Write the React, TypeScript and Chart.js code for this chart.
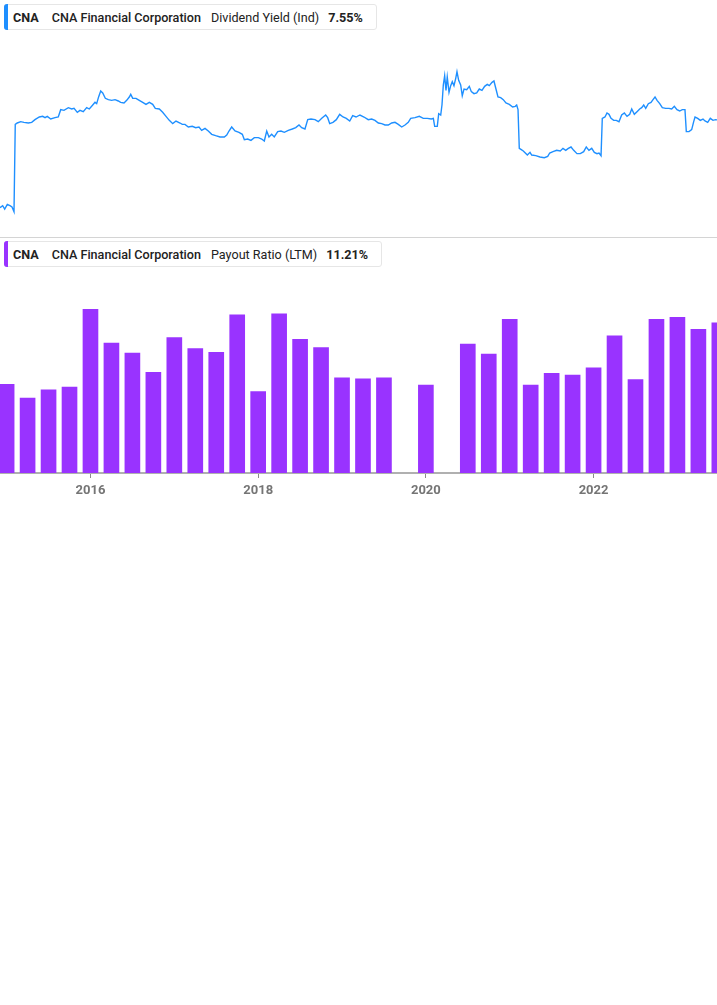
import React, { useEffect, useRef } from 'react';
import { Chart, registerables } from 'chart.js';

Chart.register(...registerables);

// Dividend Yield (Ind), in %, sampled along the daily series (decimal years)
const yieldYears = [
  2014.921, 2014.953, 2014.977, 2015.008, 2015.040, 2015.064, 2015.088, 2015.103, 2015.127, 2015.168,
  2015.207, 2015.259, 2015.299, 2015.338, 2015.390, 2015.430, 2015.458, 2015.485, 2015.526, 2015.577,
  2015.616, 2015.645, 2015.684, 2015.736, 2015.776, 2015.804, 2015.843, 2015.875, 2015.914, 2015.955,
  2015.986, 2016.027, 2016.054, 2016.074, 2016.098, 2016.122, 2016.146, 2016.177, 2016.213, 2016.253,
  2016.293, 2016.332, 2016.360, 2016.400, 2016.432, 2016.463, 2016.480, 2016.504, 2016.543, 2016.582,
  2016.623, 2016.662, 2016.702, 2016.742, 2016.773, 2016.821, 2016.861, 2016.901, 2016.940, 2016.981,
  2017.020, 2017.068, 2017.095, 2017.127, 2017.167, 2017.214, 2017.255, 2017.294, 2017.326, 2017.366,
  2017.405, 2017.446, 2017.493, 2017.545, 2017.596, 2017.625, 2017.652, 2017.684, 2017.724, 2017.771,
  2017.811, 2017.835, 2017.875, 2017.914, 2017.954, 2018.002, 2018.042, 2018.073, 2018.102, 2018.129,
  2018.161, 2018.192, 2018.233, 2018.272, 2018.312, 2018.359, 2018.407, 2018.448, 2018.487, 2018.519,
  2018.558, 2018.591, 2018.630, 2018.678, 2018.717, 2018.758, 2018.805, 2018.829, 2018.853, 2018.892,
  2018.932, 2018.972, 2019.012, 2019.051, 2019.092, 2019.127, 2019.167, 2019.214, 2019.262, 2019.313,
  2019.354, 2019.393, 2019.433, 2019.473, 2019.512, 2019.552, 2019.592, 2019.632, 2019.671, 2019.712,
  2019.751, 2019.790, 2019.819, 2019.870, 2019.922, 2019.969, 2020.017, 2020.065, 2020.089, 2020.105,
  2020.136, 2020.153, 2020.177, 2020.192, 2020.208, 2020.224, 2020.240, 2020.255, 2020.276, 2020.296,
  2020.315, 2020.335, 2020.356, 2020.371, 2020.391, 2020.415, 2020.434, 2020.455, 2020.487, 2020.518,
  2020.542, 2020.574, 2020.606, 2020.637, 2020.669, 2020.701, 2020.732, 2020.756, 2020.789, 2020.812,
  2020.836, 2020.860, 2020.892, 2020.923, 2020.955, 2020.995, 2021.035, 2021.066, 2021.083, 2021.099,
  2021.114, 2021.138, 2021.162, 2021.186, 2021.210, 2021.242, 2021.262, 2021.310, 2021.361, 2021.412,
  2021.453, 2021.477, 2021.516, 2021.560, 2021.603, 2021.635, 2021.668, 2021.699, 2021.731, 2021.763,
  2021.802, 2021.842, 2021.882, 2021.913, 2021.945, 2021.978, 2022.009, 2022.041, 2022.065, 2022.089,
  2022.104, 2022.136, 2022.160, 2022.184, 2022.208, 2022.240, 2022.271, 2022.303, 2022.335, 2022.367,
  2022.399, 2022.431, 2022.455, 2022.486, 2022.518, 2022.550, 2022.574, 2022.598, 2022.622, 2022.653,
  2022.685, 2022.709, 2022.733, 2022.757, 2022.789, 2022.820, 2022.860, 2022.899, 2022.932, 2022.963,
  2022.995, 2023.027, 2023.058, 2023.090, 2023.106, 2023.138, 2023.170, 2023.194, 2023.210, 2023.242,
  2023.273, 2023.305, 2023.329, 2023.361, 2023.392, 2023.424, 2023.456, 2023.472,
];

const yieldValues = [
  2.28, 2.40, 2.20, 2.48, 2.40, 2.32, 2.04, 7.28, 7.36, 7.44,
  7.40, 7.36, 7.40, 7.56, 7.72, 7.76, 7.68, 7.76, 7.60, 7.68,
  7.72, 8.16, 8.12, 8.28, 8.20, 8.24, 8.00, 8.12, 8.04, 8.28,
  8.20, 8.44, 8.60, 8.52, 8.94, 9.28, 9.16, 8.84, 8.76, 8.72,
  8.76, 8.68, 8.60, 8.56, 8.72, 8.92, 9.08, 8.84, 8.84, 8.72,
  8.60, 8.48, 8.60, 8.48, 8.24, 8.20, 8.00, 7.76, 7.52, 7.32,
  7.48, 7.36, 7.28, 7.28, 7.12, 7.16, 7.08, 7.12, 6.92, 7.04,
  6.88, 6.68, 6.60, 6.52, 6.52, 6.64, 6.88, 7.12, 6.88, 6.80,
  6.68, 6.36, 6.40, 6.32, 6.48, 6.48, 6.40, 6.28, 6.88, 6.52,
  6.68, 6.52, 6.84, 6.88, 6.80, 6.92, 7.00, 7.08, 7.24, 7.08,
  7.00, 7.56, 7.60, 7.56, 7.44, 7.64, 7.84, 7.68, 7.32, 7.40,
  7.56, 7.88, 7.72, 7.64, 7.48, 7.80, 7.72, 7.84, 7.72, 7.56,
  7.60, 7.52, 7.36, 7.32, 7.24, 7.24, 7.36, 7.40, 7.28, 7.12,
  7.24, 7.40, 7.64, 7.68, 7.76, 7.64, 7.64, 7.60, 7.64, 7.16,
  7.16, 7.92, 7.84, 8.44, 9.64, 10.20, 9.32, 10.12, 9.20, 9.60,
  9.84, 9.60, 10.04, 10.44, 9.92, 9.64, 9.00, 9.40, 9.36, 9.56,
  9.24, 9.12, 9.16, 9.40, 9.32, 9.56, 9.68, 9.60, 9.80, 9.88,
  9.40, 8.92, 8.88, 8.76, 8.56, 8.48, 8.32, 8.36, 8.44, 8.16,
  5.84, 5.76, 5.68, 5.56, 5.44, 5.60, 5.44, 5.40, 5.32, 5.28,
  5.36, 5.56, 5.64, 5.72, 5.68, 5.84, 5.72, 5.84, 5.92, 5.72,
  5.52, 5.52, 5.64, 5.92, 5.72, 5.84, 5.60, 5.52, 5.56, 5.40,
  7.64, 7.72, 7.96, 7.88, 7.64, 7.52, 7.52, 7.44, 7.84, 7.96,
  7.76, 7.88, 8.20, 7.88, 8.04, 8.20, 8.28, 8.44, 8.24, 8.52,
  8.60, 8.76, 8.92, 8.72, 8.52, 8.28, 8.24, 8.24, 8.20, 8.36,
  8.16, 8.08, 8.16, 8.16, 6.84, 6.84, 6.96, 7.44, 7.72, 7.64,
  7.52, 7.60, 7.48, 7.40, 7.64, 7.52, 7.56, 7.55,
];

// Payout Ratio (LTM), quarterly, in %
const payoutQuarters = [
  '2014 Q4', '2015 Q1', '2015 Q2', '2015 Q3', '2015 Q4', '2016 Q1', '2016 Q2', '2016 Q3',
  '2016 Q4', '2017 Q1', '2017 Q2', '2017 Q3', '2017 Q4', '2018 Q1', '2018 Q2', '2018 Q3',
  '2018 Q4', '2019 Q1', '2019 Q2', '2019 Q3', '2019 Q4', '2020 Q1', '2020 Q2', '2020 Q3',
  '2020 Q4', '2021 Q1', '2021 Q2', '2021 Q3', '2021 Q4', '2022 Q1', '2022 Q2', '2022 Q3',
  '2022 Q4', '2023 Q1', '2023 Q2',
];

const payoutValues: (number | null)[] = [
  97, 82, 91, 94, 179, 142, 131, 110,
  148, 136, 132, 173, 89, 174, 146, 137,
  104, 103, 104, null, 96, null, 141, 130,
  168, 96, 109, 107, 115, 150, 102, 168,
  170, 157, 164,
];

const xTickYears = [2016, 2018, 2020, 2022];

const X_MIN = 2014.921;
const X_MAX = 2023.472;

const quarterToYear = (q: string) => {
  const [y, n] = q.split(' Q');
  return Number(y) + Number(n) / 4;
};

const FONT = 'Roboto, "Noto Sans", Arial, sans-serif';

function LegendBox(props: { color: string; top: number; metric: string; value: string }) {
  return (
    <div
      style={{
        position: 'absolute',
        left: 4,
        top: props.top,
        height: 26,
        boxSizing: 'border-box',
        display: 'flex',
        alignItems: 'center',
        background: '#fff',
        border: '1px solid #e6e6e6',
        borderRadius: 3,
        paddingLeft: 8,
        paddingRight: 13,
        fontFamily: FONT,
        fontSize: 12.6,
        color: '#222',
        whiteSpace: 'nowrap',
        zIndex: 2,
      }}
    >
      <span
        style={{
          position: 'absolute',
          left: -1,
          top: -1,
          bottom: -1,
          width: 4,
          background: props.color,
          borderRadius: '3px 0 0 3px',
        }}
      />
      <span style={{ fontWeight: 700, marginRight: 13 }}>CNA</span>
      <span style={{ fontWeight: 500, marginRight: 10 }}>CNA Financial Corporation</span>
      <span style={{ fontWeight: 400, marginRight: 9 }}>{props.metric}</span>
      <span style={{ fontWeight: 700 }}>{props.value}</span>
    </div>
  );
}

export default function App() {
  const lineRef = useRef<HTMLCanvasElement | null>(null);
  const barRef = useRef<HTMLCanvasElement | null>(null);

  useEffect(() => {
    document.body.style.margin = '0';
    const lineChart = new Chart(lineRef.current as HTMLCanvasElement, {
      type: 'line',
      data: {
        datasets: [
          {
            data: yieldYears.map((x, i) => ({ x, y: yieldValues[i] })),
            borderColor: '#1e8fff',
            borderWidth: 1.4,
            pointRadius: 0,
            tension: 0,
            fill: false,
          },
        ],
      },
      options: {
        animation: false,
        responsive: false,
        layout: { padding: { top: 39, bottom: 8, left: 0, right: 0 } },
        scales: {
          x: { type: 'linear', min: X_MIN, max: X_MAX, display: false },
          y: { type: 'linear', min: 1, max: 12.4, display: false },
        },
        plugins: { legend: { display: false }, tooltip: { enabled: false } },
      },
    });

    const barChart = new Chart(barRef.current as HTMLCanvasElement, {
      type: 'bar',
      data: {
        datasets: [
          {
            data: payoutQuarters.map((q, i) => ({ x: quarterToYear(q), y: payoutValues[i] })) as any,
            backgroundColor: '#9933ff',
            barThickness: 15,
          },
        ],
      },
      options: {
        animation: false,
        responsive: false,
        layout: { padding: { top: 52, bottom: 0, left: 0, right: 0 } },
        scales: {
          x: {
            type: 'linear',
            min: X_MIN,
            max: X_MAX,
            offset: false,
            afterBuildTicks: (s: any) => {
              s.ticks = xTickYears.map((v) => ({ value: v }));
            },
            afterFit: (s: any) => {
              s.height = 45;
            },
            grid: {
              display: true,
              offset: false,
              drawOnChartArea: false,
              drawTicks: true,
              tickLength: 5,
              color: '#8a8a8a',
              lineWidth: 1,
            },
            border: { display: true, color: '#b0b0b0', width: 2 },
            ticks: {
              autoSkip: false,
              maxRotation: 0,
              padding: 5,
              color: '#757575',
              font: { family: FONT, size: 13, weight: 'bold' },
              callback: (v: any) => String(v),
            },
          },
          y: { type: 'linear', min: 0, max: 200, display: false },
        },
        plugins: { legend: { display: false }, tooltip: { enabled: false } },
      },
    });

    return () => {
      lineChart.destroy();
      barChart.destroy();
    };
  }, []);

  return (
    <div style={{ position: 'relative', width: 717, height: 1005, background: '#fff', overflow: 'hidden' }}>
      <canvas
        ref={lineRef}
        width={717}
        height={237}
        style={{ position: 'absolute', left: 0, top: 0, width: 717, height: 237 }}
      />
      <LegendBox color="#1e8fff" top={4} metric="Dividend Yield (Ind)" value="7.55%" />
      <div style={{ position: 'absolute', left: 0, top: 237, width: 717, height: 1, background: '#d4d4d4' }} />
      <canvas
        ref={barRef}
        width={717}
        height={280}
        style={{ position: 'absolute', left: 0, top: 238, width: 717, height: 280 }}
      />
      <LegendBox color="#9933ff" top={241} metric="Payout Ratio (LTM)" value="11.21%" />
    </div>
  );
}
